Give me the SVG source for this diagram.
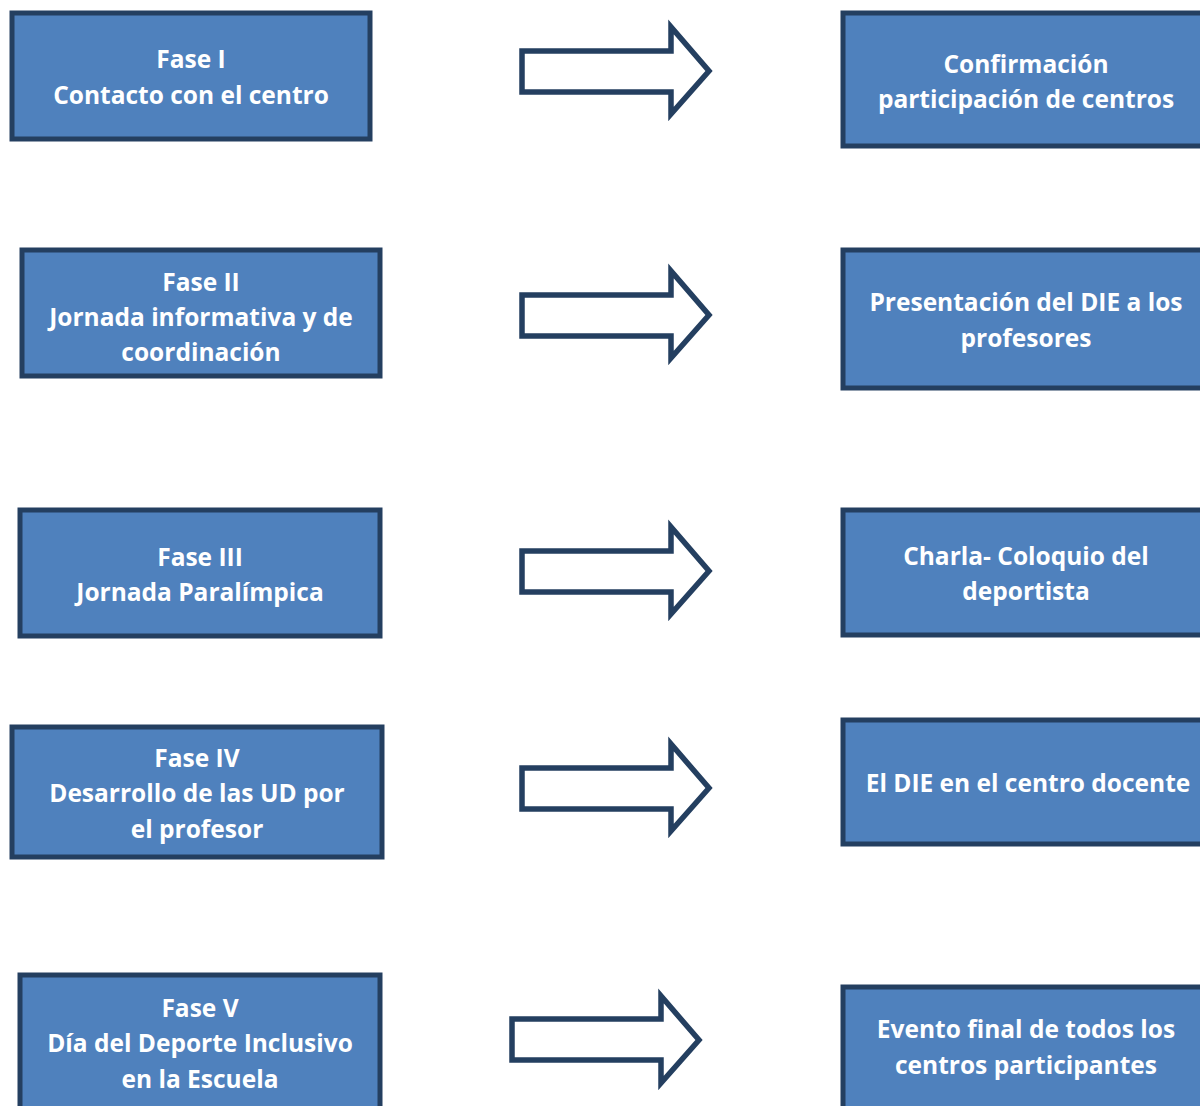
<svg xmlns="http://www.w3.org/2000/svg" width="1200" height="1106" viewBox="0 0 1200 1106">
<style>
.box{fill:#4F81BD;stroke:#243F60;stroke-width:5}
.arr{fill:#FFFFFF;stroke:#243F60;stroke-width:5.5;stroke-linejoin:miter}
.t{font-family:"Open Sans","Liberation Sans",sans-serif;font-weight:bold;font-size:24.5px;fill:#FFFFFF;text-anchor:middle}
</style>
<rect width="1200" height="1106" fill="#FFFFFF"/>
<g id="connectors">
<polygon class="arr" points="522,51 671,51 671,27 709,71 671,114 671,92 522,92"/>
<polygon class="arr" points="522,295 671,295 671,271 709,315 671,358 671,336 522,336"/>
<polygon class="arr" points="522,551 671,551 671,527 709,571 671,614 671,592 522,592"/>
<polygon class="arr" points="522,768 671,768 671,744 709,788 671,831 671,809 522,809"/>
<polygon class="arr" points="512,1019 661,1019 661,996 699,1040 661,1083 661,1060 512,1060"/>
</g>
<g id="fase1">
<rect class="box" x="12" y="13" width="358" height="126"/>
<text class="t" x="191" y="68">Fase I</text>
<text class="t" x="191" y="104">Contacto con el centro</text>
</g>
<g id="fase2">
<rect class="box" x="22" y="250" width="358" height="126"/>
<text class="t" x="201" y="291">Fase II</text>
<text class="t" x="201" y="326">Jornada informativa y de</text>
<text class="t" x="201" y="361">coordinación</text>
</g>
<g id="fase3">
<rect class="box" x="20" y="510" width="360" height="126"/>
<text class="t" x="200" y="566">Fase III</text>
<text class="t" x="200" y="601">Jornada Paralímpica</text>
</g>
<g id="fase4">
<rect class="box" x="12" y="727" width="370" height="130"/>
<text class="t" x="197" y="767">Fase IV</text>
<text class="t" x="197" y="802">Desarrollo de las UD por</text>
<text class="t" x="197" y="838">el profesor</text>
</g>
<g id="fase5">
<rect class="box" x="20" y="975" width="360" height="150"/>
<text class="t" x="200" y="1017">Fase V</text>
<text class="t" x="200" y="1052">Día del Deporte Inclusivo</text>
<text class="t" x="200" y="1088">en la Escuela</text>
</g>
<g id="resultado1">
<rect class="box" x="843" y="13" width="380" height="133"/>
<text class="t" x="1026" y="73">Confirmación</text>
<text class="t" x="1026" y="108">participación de centros</text>
</g>
<g id="resultado2">
<rect class="box" x="843" y="250" width="380" height="138"/>
<text class="t" x="1026" y="311">Presentación del DIE a los</text>
<text class="t" x="1026" y="347">profesores</text>
</g>
<g id="resultado3">
<rect class="box" x="843" y="510" width="380" height="125"/>
<text class="t" x="1026" y="565">Charla- Coloquio del</text>
<text class="t" x="1026" y="600">deportista</text>
</g>
<g id="resultado4">
<rect class="box" x="843" y="720" width="380" height="124"/>
<text class="t" x="1028" y="792">El DIE en el centro docente</text>
</g>
<g id="resultado5">
<rect class="box" x="843" y="987" width="380" height="140"/>
<text class="t" x="1026" y="1038">Evento final de todos los</text>
<text class="t" x="1026" y="1074">centros participantes</text>
</g>
</svg>
